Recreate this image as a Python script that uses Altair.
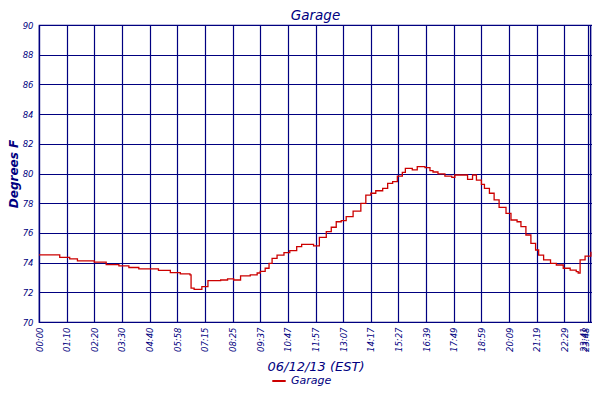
import altair as alt
import pandas as pd

# sample position (index along the day) and temperature readings
sample = [0, 7.5, 11.1, 13.9, 20, 24.3, 28.9, 32.5, 36.1, 43.2, 47.5, 51.1, 54.6, 55, 56.1,
          58.9, 61.1, 65.7, 68.2, 70.4, 72.9, 76.4, 78.9, 80, 81.8, 83.2, 84.3, 86.1, 88.6,
          90.7, 93.2, 95, 99.3, 101.4, 103.9, 105.7, 107.5, 109.3, 111.1, 113.6, 116.4, 118.2,
          120, 121.8, 124.3, 126.1, 127.9, 129.6, 131.4, 132.5, 135, 136.8, 139.6, 141.4,
          142.5, 144.3, 146.8, 149.3, 150.4, 153.9, 155, 156.8, 158.2, 160, 161.1, 162.9,
          164.6, 166.4, 168.9, 170.7, 172.9, 174.3, 176.1, 177.9, 179.6, 180.7, 182.5, 185,
          187.1, 189.6, 192.1, 194.3, 195, 195.7, 197.5, 199.6]
temps = [74.52, 74.35, 74.25, 74.12, 74.03, 73.87, 73.78, 73.67, 73.58, 73.47, 73.33, 73.24,
         73.17, 72.28, 72.20, 72.38, 72.78, 72.83, 72.90, 72.83, 73.10, 73.17, 73.30, 73.41,
         73.62, 73.95, 74.29, 74.51, 74.67, 74.80, 75.07, 75.23, 75.12, 75.70, 76.08, 76.38,
         76.75, 76.82, 77.09, 77.47, 77.99, 78.55, 78.67, 78.84, 79.00, 79.34, 79.45, 79.83,
         80.08, 80.35, 80.24, 80.46, 80.39, 80.19, 80.10, 79.97, 79.83, 79.74, 79.90, 79.90,
         79.61, 79.90, 79.56, 79.27, 79.00, 78.67, 78.22, 77.72, 77.32, 76.87, 76.75, 76.42,
         75.86, 75.30, 74.85, 74.51, 74.18, 73.95, 73.84, 73.62, 73.50, 73.39, 73.30, 74.18,
         74.44, 74.73]

tick_pos = [0, 10, 20, 30, 40, 50, 60, 70, 80, 90, 100, 110, 120, 130, 140, 150, 160, 170,
            180, 190, 198.6, 199.4]
tick_labels = ["00:00", "01:10", "02:20", "03:30", "04:40", "05:58", "07:15", "08:25",
               "09:37", "10:47", "11:57", "13:07", "14:17", "15:27", "16:39", "17:49",
               "18:59", "20:09", "21:19", "22:29", "23:41", "23:48"]
y_ticks = [70, 72, 74, 76, 78, 80, 82, 84, 86, 88, 90]

df = pd.DataFrame({"sample": sample, "temp": temps, "series": "Garage"})

NAVY = "#000080"
FONT = "DejaVu Sans"

label_expr = ("[" + ",".join("'%s'" % t for t in tick_labels) + "][indexof(["
              + ",".join(str(v) for v in tick_pos) + "], datum.value)]")

chart = alt.Chart(df).mark_line(interpolate="step-after", strokeWidth=1.3).encode(
    x=alt.X("sample:Q", scale=alt.Scale(domain=[0, 200], nice=False, zero=False),
            axis=alt.Axis(values=tick_pos, labelExpr=label_expr, title="06/12/13 (EST)",
                          labelAngle=270, labelAlign="right",
                          labelBaseline={"condition": {"test": "datum.value > 195",
                                                       "value": "bottom"},
                                         "value": "middle"},
                          labelPadding=5, labelOverlap=False, labelFlush=False,
                          titlePadding=9, titleFontSize=13)),
    y=alt.Y("temp:Q", scale=alt.Scale(domain=[70, 90], nice=False, zero=False),
            axis=alt.Axis(values=y_ticks, title="Degrees F", labelPadding=6,
                          titleFontWeight="bold", titleFontSize=12, titlePadding=2)),
    color=alt.Color("series:N", scale=alt.Scale(domain=["Garage"], range=["#CC0000"]),
                    legend=alt.Legend(title=None, orient="none", legendX=232, legendY=348,
                                      symbolType="stroke", symbolStrokeWidth=2,
                                      symbolSize=180, labelFont=FONT, labelFontSize=11,
                                      labelFontStyle="italic", labelColor=NAVY,
                                      direction="horizontal", padding=0)),
).properties(
    width=553, height=297,
    padding={"left": 31, "top": 17, "right": 0, "bottom": 65},
    autosize="none",
    title=alt.TitleParams("Garage", font=FONT, fontSize=13.5, fontStyle="italic",
                          fontWeight="normal", color=NAVY, offset=-1),
).configure_view(
    stroke=NAVY, strokeWidth=1.2
).configure_axis(
    grid=True, gridColor=NAVY, gridWidth=1.2, gridOpacity=1,
    domainColor=NAVY, domainWidth=1.2, ticks=False,
    labelFont=FONT, labelFontSize=8.5, labelFontStyle="italic", labelColor=NAVY,
    titleFont=FONT, titleFontStyle="italic", titleFontWeight="normal",
    titleColor=NAVY,
)

chart.save("out.html", embed_options={"renderer": "svg", "actions": False})
